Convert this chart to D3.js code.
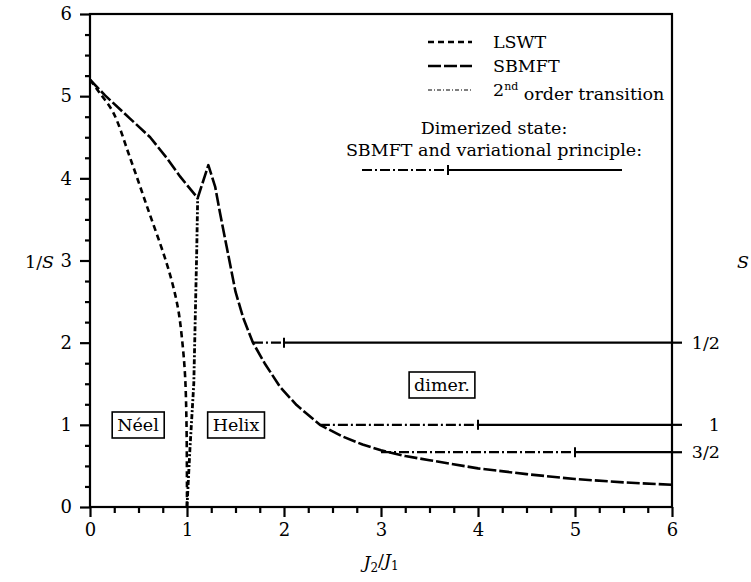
<!DOCTYPE html>
<html>
<head>
<meta charset="utf-8">
<script src="https://cdn.jsdelivr.net/npm/d3@7"></script>
<style>
  html, body { margin: 0; padding: 0; background: #fff; }
  svg text { font-family: "DejaVu Serif", "Liberation Serif", serif; }
</style>
</head>
<body>
<svg id="chart" width="751" height="582"></svg>
<script>
// Phase diagram: 1/S versus J2/J1

// LSWT, Néel side
const lswtX = [0, 0.1, 0.24, 0.41, 0.59, 0.77, 0.85, 0.91, 0.95, 0.98, 0.995, 1.0];
const lswtY = [5.2, 5.04, 4.8, 4.26, 3.65, 3.04, 2.72, 2.4, 2.03, 1.6, 1.0, 0];

// SBMFT
const sbmftX = [0, 0.155, 0.41, 0.62, 0.79, 0.93, 1.11, 1.22, 1.29, 1.34, 1.41, 1.46, 1.5, 1.58, 1.68, 1.8, 1.96, 2.13, 2.37, 2.6, 2.81, 3.0, 3.25, 3.5, 4.0, 4.5, 5.0, 5.5, 6.0];
const sbmftY = [5.2, 5.01, 4.73, 4.5, 4.25, 4.02, 3.76, 4.16, 3.9, 3.58, 3.16, 2.86, 2.62, 2.3, 2.0, 1.75, 1.46, 1.24, 1.0, 0.86, 0.76, 0.69, 0.62, 0.57, 0.47, 0.4, 0.34, 0.3, 0.27];

// 2nd order transition line
const transX = [1.0, 1.03, 1.07, 1.10, 1.11];
const transY = [0, 0.7, 1.5, 3.1, 3.76];

// Dimerized state levels (1/S), onset, and switch from dash-dot to solid
const dimerLevel = [2, 1, 2 / 3];
const dimerStart = [1.68, 2.37, 3.0];
const dimerTick = [2, 4, 5];

// Right-hand spin labels
const spinLabels = ["1/2", "1", "3/2"];

const xTicks = [0, 1, 2, 3, 4, 5, 6];
const yTicks = [0, 1, 2, 3, 4, 5, 6];

const FONT = "'DejaVu Serif', 'Liberation Serif', serif";
const FS = 17.5;

const svg = d3.select("#chart");
const x = d3.scaleLinear().domain([0, 6]).range([90, 672]);
const y = d3.scaleLinear().domain([0, 6]).range([507, 14]);

const minorTicks = d3.range(0, 6.001, 0.25).filter(v => Math.abs(v - Math.round(v)) > 1e-6);

// minor ticks
svg.append("g").attr("transform", `translate(${x(0)},0)`)
  .call(d3.axisLeft(y).tickValues(minorTicks).tickSize(5).tickFormat(""))
  .call(g => g.select(".domain").remove())
  .call(g => g.selectAll("line").attr("stroke-width", 2.2));
svg.append("g").attr("transform", `translate(0,${y(0)})`)
  .call(d3.axisBottom(x).tickValues(minorTicks).tickSize(6).tickFormat(""))
  .call(g => g.select(".domain").remove())
  .call(g => g.selectAll("line").attr("stroke-width", 2.2));

// major ticks with labels
const yAxis = svg.append("g").attr("transform", `translate(${x(0)},0)`)
  .call(d3.axisLeft(y).tickValues(yTicks).tickSize(10).tickPadding(8).tickFormat(d3.format("d")))
  .call(g => g.select(".domain").remove());
yAxis.selectAll("line").attr("stroke-width", 2.2);
yAxis.selectAll("text").attr("fill", "#000");

const xAxis = svg.append("g").attr("transform", `translate(0,${y(0)})`)
  .call(d3.axisBottom(x).tickValues(xTicks).tickSize(10).tickPadding(6).tickFormat(d3.format("d")))
  .call(g => g.select(".domain").remove());
xAxis.selectAll("line").attr("stroke-width", 2.2);
xAxis.selectAll("text").attr("fill", "#000");

// frame
svg.append("rect")
  .attr("x", x(0)).attr("y", y(6))
  .attr("width", x(6) - x(0)).attr("height", y(0) - y(6))
  .attr("fill", "none").attr("stroke", "#000").attr("stroke-width", 2.2);

// right axis: spin values
const sAxis = svg.append("g").attr("transform", `translate(${x(6)},0)`);
dimerLevel.forEach((lv, i) => {
  sAxis.append("line").attr("x1", 0).attr("x2", 10)
    .attr("y1", y(lv)).attr("y2", y(lv))
    .attr("stroke", "#000").attr("stroke-width", 2.2);
  sAxis.append("text").attr("x", 48).attr("y", y(lv)).attr("dy", "0.35em")
    .attr("text-anchor", "end").text(spinLabels[i]);
});

// curves
const line = d3.line().x(d => x(d[0])).y(d => y(d[1]));
const zip = (a, b) => a.map((v, i) => [v, b[i]]);

svg.append("path").datum(zip(lswtX, lswtY))
  .attr("d", line.curve(d3.curveCatmullRom.alpha(0.5)))
  .attr("fill", "none").attr("stroke", "#000").attr("stroke-width", 2.6)
  .attr("stroke-dasharray", "6,4");

svg.append("path").datum(zip(transX, transY))
  .attr("d", line.curve(d3.curveLinear))
  .attr("fill", "none").attr("stroke", "#000").attr("stroke-width", 2.8)
  .attr("stroke-dasharray", "5,2,2,2");

svg.append("path").datum(zip(sbmftX, sbmftY))
  .attr("d", line.curve(d3.curveLinear))
  .attr("fill", "none").attr("stroke", "#000").attr("stroke-width", 2.6)
  .attr("stroke-linejoin", "round")
  .attr("stroke-dasharray", "13,3");

// dimerized state lines
const dimerG = svg.append("g");
dimerLevel.forEach((lv, i) => {
  dimerG.append("line")
    .attr("x1", x(dimerStart[i])).attr("x2", x(dimerTick[i]))
    .attr("y1", y(lv)).attr("y2", y(lv))
    .attr("stroke", "#000").attr("stroke-width", 2.2)
    .attr("stroke-dasharray", "10,3,2,3");
  dimerG.append("line")
    .attr("x1", x(dimerTick[i])).attr("x2", x(6))
    .attr("y1", y(lv)).attr("y2", y(lv))
    .attr("stroke", "#000").attr("stroke-width", 2.2);
  dimerG.append("line")
    .attr("x1", x(dimerTick[i])).attr("x2", x(dimerTick[i]))
    .attr("y1", y(lv) - 5).attr("y2", y(lv) + 5)
    .attr("stroke", "#000").attr("stroke-width", 2);
});

// legend
const legend = svg.append("g");
const legendItems = [
  { dash: "6,4", w: 2.6, yy: 42 },
  { dash: "13,3", w: 2.6, yy: 66 },
  { dash: "4,2,1,2", w: 1.2, yy: 90 }
];
legendItems.forEach(it => {
  legend.append("line").attr("x1", 428).attr("x2", 472)
    .attr("y1", it.yy).attr("y2", it.yy)
    .attr("stroke", "#000").attr("stroke-width", it.w)
    .attr("stroke-dasharray", it.dash);
});
legend.append("text").attr("x", 493).attr("y", 42).attr("dy", "0.35em").text("LSWT");
legend.append("text").attr("x", 493).attr("y", 66).attr("dy", "0.35em").text("SBMFT");
const t3 = legend.append("text").attr("x", 493).attr("y", 90).attr("dy", "0.35em");
t3.append("tspan").text("2");
t3.append("tspan").attr("font-size", 11).attr("dy", "-0.55em").text("nd");
t3.append("tspan").attr("dy", "0.55em").text(" order transition");

legend.append("text").attr("x", 494).attr("y", 128).attr("dy", "0.35em")
  .attr("text-anchor", "middle").text("Dimerized state:");
legend.append("text").attr("x", 494).attr("y", 150).attr("dy", "0.35em")
  .attr("text-anchor", "middle").text("SBMFT and variational principle:");
legend.append("line").attr("x1", 362).attr("x2", 448).attr("y1", 170).attr("y2", 170)
  .attr("stroke", "#000").attr("stroke-width", 2.2).attr("stroke-dasharray", "10,3,2,3");
legend.append("line").attr("x1", 448).attr("x2", 622).attr("y1", 170).attr("y2", 170)
  .attr("stroke", "#000").attr("stroke-width", 2.2);
legend.append("line").attr("x1", 448).attr("x2", 448).attr("y1", 165).attr("y2", 175)
  .attr("stroke", "#000").attr("stroke-width", 2);

// phase labels in boxes
const boxes = [
  { text: "Néel", cx: 138, cy: 425 },
  { text: "Helix", cx: 236, cy: 425 },
  { text: "dimer.", cx: 442, cy: 385 }
];

// axis titles
const yt = svg.append("text").attr("x", 25).attr("y", 268);
yt.append("tspan").text("1/");
yt.append("tspan").attr("font-style", "italic").text("S");

svg.append("text").attr("x", 737).attr("y", 268).attr("font-style", "italic").text("S");

const xt = svg.append("text").attr("x", 381).attr("y", 568).attr("text-anchor", "middle");
xt.append("tspan").attr("font-style", "italic").text("J");
xt.append("tspan").attr("font-size", 12).attr("dy", "0.3em").text("2");
xt.append("tspan").attr("dy", "-0.3em").text("/");
xt.append("tspan").attr("font-style", "italic").text("J");
xt.append("tspan").attr("font-size", 12).attr("dy", "0.3em").text("1");

// one type face and size for every label
svg.selectAll("text").style("font-family", FONT).attr("font-size", FS);
svg.selectAll(".tick text").attr("font-size", FS + 0.5);

boxes.forEach(b => {
  const g = svg.append("g");
  const t = g.append("text").attr("x", b.cx).attr("y", b.cy).attr("dy", "0.35em")
    .attr("text-anchor", "middle").style("font-family", FONT).attr("font-size", FS)
    .text(b.text);
  const bb = t.node().getBBox();
  g.insert("rect", "text")
    .attr("x", bb.x - 5).attr("y", b.cy - 13)
    .attr("width", bb.width + 10).attr("height", 26)
    .attr("fill", "#fff").attr("stroke", "#000").attr("stroke-width", 1.6);
});
</script>
</body>
</html>
